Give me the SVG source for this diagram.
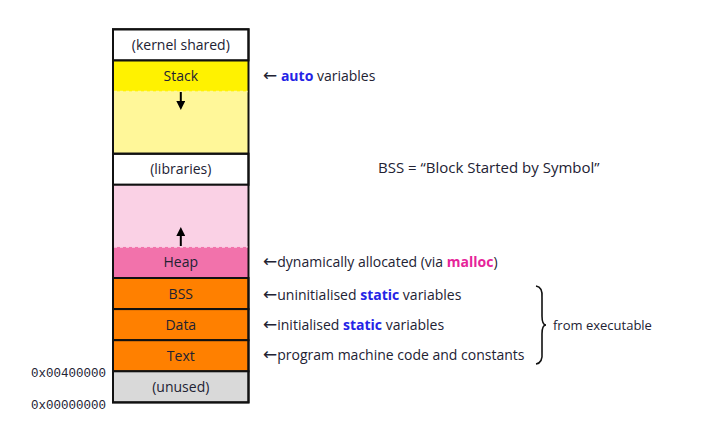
<svg xmlns="http://www.w3.org/2000/svg" width="728" height="436" viewBox="0 0 728 436">
<style>
text{font-family:"Open Sans","Liberation Sans",sans-serif;font-size:14px;fill:#222233}
.c{text-anchor:middle}
.mono{font-family:"Liberation Mono","DejaVu Sans Mono",monospace;font-size:12.5px;text-anchor:end}
.b{font-weight:bold;fill:#2424e6}
.m{font-weight:bold;fill:#e6249a}
.ar{font-family:"DejaVu Sans",sans-serif;font-size:17px}
.box{stroke:#111;stroke-width:2}
</style>
<defs>
<marker id="ah" markerWidth="9" markerHeight="9" refX="3" refY="4.5" orient="auto" markerUnits="userSpaceOnUse">
<path d="M0,0 L9,4.5 L0,9 Z" fill="#000"/>
</marker>
</defs>
<g id="kernel"><rect class="box" x="113" y="29.3" width="135.5" height="31.1" fill="#fff"/><text class="c" x="180.8" y="49.5">(kernel shared)</text></g>
<g id="stackfree"><rect x="113" y="91.5" width="135.5" height="62.2" fill="#fff799"/></g>
<g id="stack"><rect x="113" y="60.4" width="135.5" height="31.1" fill="#fff200" stroke="none"/><text class="c" x="180.8" y="81">Stack</text></g>
<g id="libraries"><rect class="box" x="113" y="153.7" width="135.5" height="31.1" fill="#fff"/><text class="c" x="180.8" y="173.5">(libraries)</text></g>
<g id="heapfree"><rect x="113" y="184.8" width="135.5" height="62.1" fill="#fad1e5"/></g>
<g id="heap"><rect x="113" y="246.9" width="135.5" height="31.1" fill="#f272ab" stroke="none"/><text class="c" x="180.8" y="267">Heap</text></g>
<g id="bss"><rect class="box" x="113" y="278" width="135.5" height="31.1" fill="#ff8000"/><text class="c" x="180.8" y="299">BSS</text></g>
<g id="data"><rect class="box" x="113" y="309.1" width="135.5" height="31.1" fill="#ff8000"/><text class="c" x="180.8" y="330">Data</text></g>
<g id="textseg"><rect class="box" x="113" y="340.2" width="135.5" height="31.1" fill="#ff8000"/><text class="c" x="180.8" y="361">Text</text></g>
<g id="unused"><rect class="box" x="113" y="371.3" width="135.5" height="31.1" fill="#d9d9d9"/><text class="c" x="180.8" y="392">(unused)</text></g>
<g id="frame">
<line x1="113" y1="153.7" x2="248.5" y2="153.7" stroke="#111" stroke-width="2"/>
<line x1="113" y1="184.8" x2="248.5" y2="184.8" stroke="#111" stroke-width="2"/>
<line x1="113" y1="60.4" x2="248.5" y2="60.4" stroke="#111" stroke-width="2"/>
<line x1="113" y1="278" x2="248.5" y2="278" stroke="#111" stroke-width="2"/>
<rect x="113" y="29.3" width="135.5" height="373.1" fill="none" stroke="#111" stroke-width="2"/>
<line x1="114" y1="91.5" x2="247.5" y2="91.5" stroke="#fff799" stroke-width="1.5" stroke-dasharray="3,3"/>
<line x1="114" y1="246.9" x2="247.5" y2="246.9" stroke="#fad1e5" stroke-width="1.5" stroke-dasharray="3,3"/>
</g>
<g id="connectors">
<line x1="180.8" y1="92" x2="180.8" y2="104" stroke="#000" stroke-width="2" marker-end="url(#ah)"/>
<line x1="180.8" y1="246" x2="180.8" y2="233" stroke="#000" stroke-width="2" marker-end="url(#ah)"/>
<path d="M536,286 Q543,287 542,298 L542,316 Q542,325 546,325 Q542,325 542,334 L542,352 Q543,363 536,364" fill="none" stroke="#111" stroke-width="1.6"/>
</g>
<g id="labels">
<text class="mono" x="106" y="377">0x00400000</text>
<text class="mono" x="106" y="409">0x00000000</text>
<text x="263" y="80.5"><tspan class="ar">←</tspan> <tspan class="b">auto</tspan> variables</text>
<text x="263" y="266.5"><tspan class="ar">←</tspan>dynamically allocated (via <tspan class="m">malloc</tspan>)</text>
<text x="263" y="299.5"><tspan class="ar">←</tspan>uninitialised <tspan class="b">static</tspan> variables</text>
<text x="263" y="330"><tspan class="ar">←</tspan>initialised <tspan class="b">static</tspan> variables</text>
<text x="263" y="360"><tspan class="ar">←</tspan>program machine code and constants</text>
<text x="553" y="330" style="font-size:13px">from executable</text>
<text x="378" y="173" style="font-size:15px">BSS = “Block Started by Symbol”</text>
</g>
</svg>
